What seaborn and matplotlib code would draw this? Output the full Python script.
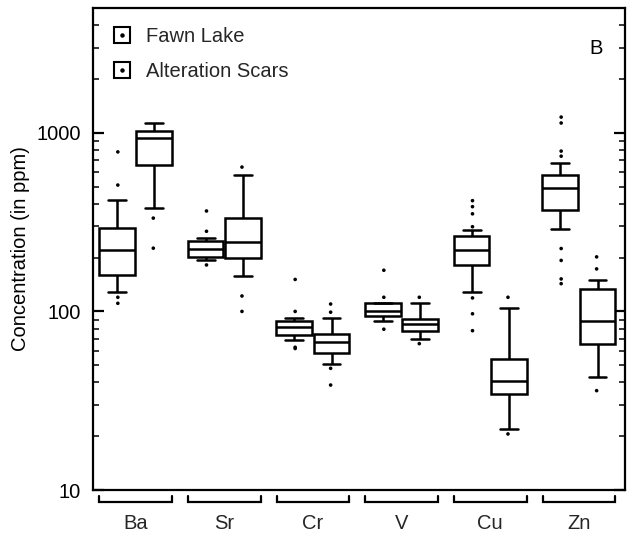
import numpy as np
import pandas as pd
import matplotlib
matplotlib.use("Agg")
import matplotlib.pyplot as plt
import matplotlib.transforms as mtransforms
from matplotlib.lines import Line2D
from matplotlib.legend_handler import HandlerTuple
from matplotlib.ticker import FixedLocator, LogLocator, NullFormatter, FixedFormatter
import seaborn as sns

# ---------------- data ----------------
elements = ["Ba", "Sr", "Cr", "V", "Cu", "Zn"]
sites = ["Fawn Lake", "Alteration Scars"]

# five-number summaries: lower whisker, Q1, median, Q3, upper whisker (ppm)
fawn_box = {
    "Ba": [128, 159, 220, 292, 420],
    "Sr": [193, 201, 223, 248, 257],
    "Cr": [69, 74, 82, 88, 92],
    "V":  [88, 94, 101, 112, 112],
    "Cu": [129, 183, 221, 265, 286],
    "Zn": [288, 368, 489, 579, 676],
}
scars_box = {
    "Ba": [379, 661, 937, 1026, 1138],
    "Sr": [157, 198, 244, 332, 580],
    "Cr": [51, 58.5, 67.5, 75, 92],
    "V":  [70.5, 78, 85.5, 91, 112],
    "Cu": [22, 34.6, 41, 54, 104],
    "Zn": [43, 66, 88, 133, 150],
}
# points beyond the whiskers
fawn_out = {
    "Ba": [111, 120, 510, 782],
    "Sr": [182, 281, 365],
    "Cr": [62, 63, 100, 151],
    "V":  [79.5, 120, 170],
    "Cu": [78, 97, 119, 298, 352, 386, 417],
    "Zn": [143, 152, 193, 225, 740, 790, 1135, 1225],
}
scars_out = {
    "Ba": [226, 333],
    "Sr": [100, 122, 643],
    "Cr": [38.7, 48, 99, 110],
    "V":  [66, 120],
    "Cu": [20.6, 120],
    "Zn": [36, 173, 202],
}
y_ticks = [10, 100, 1000]
y_tick_labels = ["10", "100", "1000"]

# ---------------- tables ----------------
box_rows, out_rows = [], []
for site, bx, ot in [(sites[0], fawn_box, fawn_out), (sites[1], scars_box, scars_out)]:
    for el in elements:
        for v in bx[el]:
            box_rows.append((el, site, v))
        for v in ot[el]:
            out_rows.append((el, site, v))
box_df = pd.DataFrame(box_rows, columns=["element", "site", "value"])
out_df = pd.DataFrame(out_rows, columns=["element", "site", "value"])

# ---------------- figure ----------------
sns.set_theme(style="white")
plt.rcParams["font.family"] = ["Liberation Sans", "DejaVu Sans"]
FS = 14.5

W, H = 629, 542
fig = plt.figure(figsize=(W / 100, H / 100), dpi=100)
ax_l, ax_r, ax_t, ax_b = 93, 625, 8, 490
ax = fig.add_axes([ax_l / W, (H - ax_b) / H, (ax_r - ax_l) / W, (ax_b - ax_t) / H])
ax.set_yscale("log")

sns.boxplot(
    data=box_df, x="element", y="value", hue="site",
    order=elements, hue_order=sites,
    palette={s: "white" for s in sites}, linecolor="black", linewidth=1.8,
    whis=(0, 100), width=0.84, gap=0.04, showfliers=False, legend=False, ax=ax,
)
sns.stripplot(
    data=out_df, x="element", y="value", hue="site",
    order=elements, hue_order=sites, dodge=True, jitter=False,
    palette={s: "black" for s in sites}, size=2.6, linewidth=0,
    legend=False, ax=ax,
)

ax.set_ylim(10, 5000)
ax.set_xlim(-0.48, 5.52)

# y ticks
ax.yaxis.set_major_locator(FixedLocator(y_ticks))
ax.yaxis.set_major_formatter(FixedFormatter(y_tick_labels))
ax.yaxis.set_minor_locator(LogLocator(base=10, subs=np.arange(2, 10)))
ax.yaxis.set_minor_formatter(NullFormatter())
ax.tick_params(axis="y", which="major", direction="in", length=8, width=1.6,
               left=True, right=True, labelsize=FS, pad=9, colors="black")
ax.tick_params(axis="y", which="minor", direction="in", length=4.5, width=1.3,
               left=True, right=True)
ax.tick_params(axis="x", length=0, labelsize=FS, pad=17)
ax.set_xlabel("")
ax.set_ylabel("Concentration (in ppm)", fontsize=FS, labelpad=4, color="black")

for sp in ax.spines.values():
    sp.set_visible(True)
    sp.set_color("black")
    sp.set_linewidth(1.6)

# group brackets under the axis
trans = mtransforms.blended_transform_factory(ax.transData, ax.transAxes)
for i, _ in enumerate(elements):
    x0, x1 = i - 0.41, i + 0.41
    ax.plot([x0, x0, x1, x1], [-0.012, -0.024, -0.024, -0.012], transform=trans,
            color="black", lw=1.6, clip_on=False, solid_joinstyle="miter")

# legend
sq = Line2D([], [], marker="s", markersize=11, markerfacecolor="white",
            markeredgecolor="black", markeredgewidth=1.5, linestyle="none")
dot = Line2D([], [], marker="o", markersize=2.2, color="black", linestyle="none")
ax.legend(handles=[(sq, dot), (sq, dot)], labels=sites,
          handler_map={tuple: HandlerTuple(ndivide=1)},
          loc="upper left", bbox_to_anchor=(0.0, 1.0), frameon=False,
          fontsize=FS, handlelength=1.0, handletextpad=0.7,
          labelspacing=0.8, borderaxespad=0.55)

ax.text(0.945, 0.915, "B", transform=ax.transAxes, fontsize=FS,
        ha="center", va="center", color="black")

fig.savefig("out.png", dpi=100)
